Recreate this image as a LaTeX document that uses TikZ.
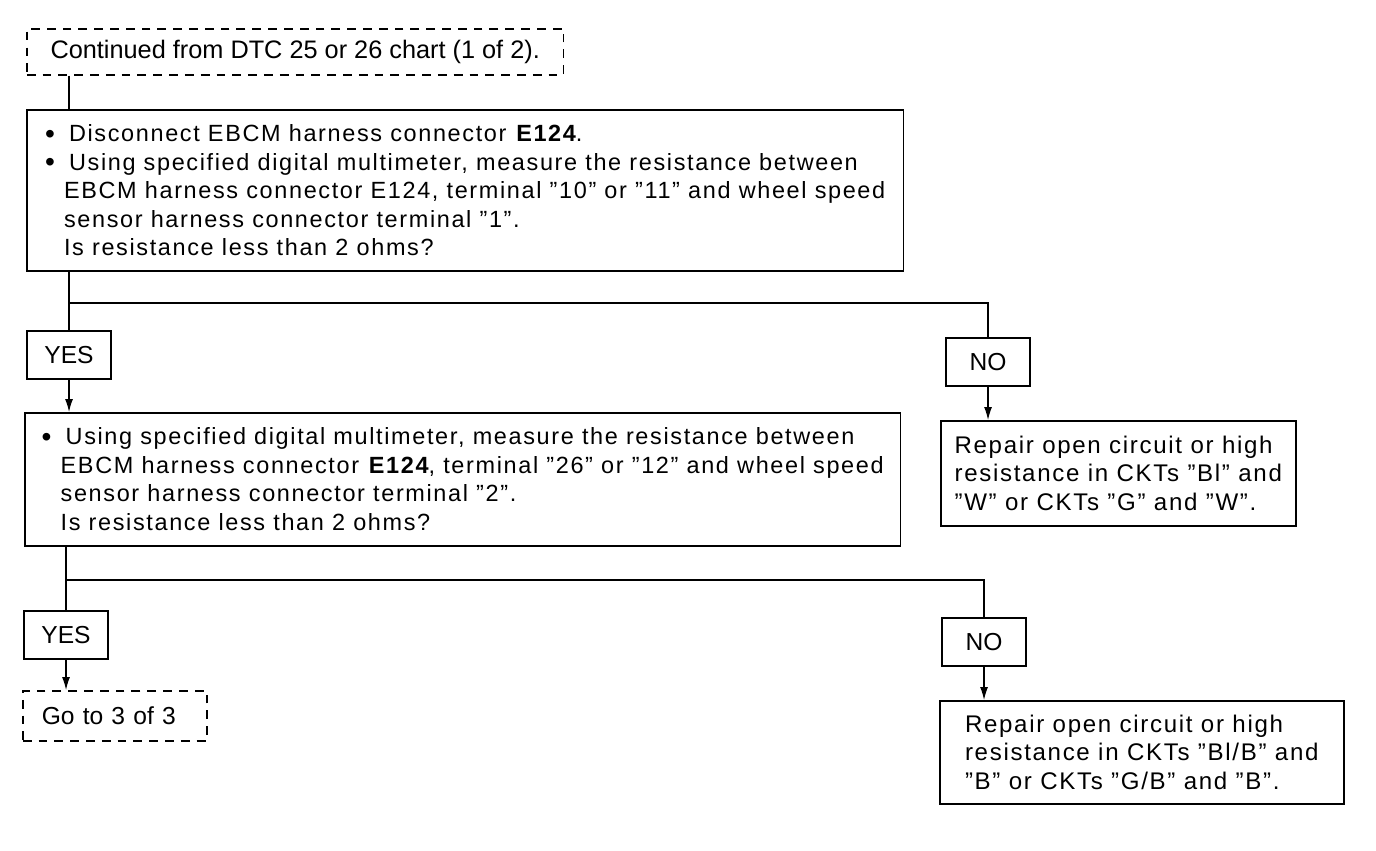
\documentclass[tikz,border=0pt]{standalone}
\usepackage{fontspec}
\setmainfont{Liberation Sans}
\newfontfamily\widefont[LetterSpace=7]{Liberation Sans}
\usetikzlibrary{arrows.meta}

\newcommand\blt{\makebox[0.48cm][l]{\raisebox{-0.8pt}{\fontsize{16}{16}\selectfont\textbullet}}}
\newcommand\ind{\hspace*{0.38cm}}
\newcommand\qt[1]{\textquotedblright#1\textquotedblright}

\begin{document}
\begin{tikzpicture}[x=0.02cm, y=-0.02cm,
  box/.style={draw, line width=0.9pt, anchor=north west, inner sep=0pt},
  chkbox/.style={box, align=left, font=\widefont\fontsize{13.35}{16.2}\selectfont},
  fixbox/.style={box, align=left, font=\widefont\fontsize{13.7}{16.2}\selectfont},
  tagbox/.style={box, minimum width=1.69cm, minimum height=0.96cm,
    font=\fontsize{14}{16}\selectfont},
  linkbox/.style={box, dash pattern=on 5pt off 4pt, align=left},
  wire/.style={line width=0.7pt},
  flow/.style={wire, -{Latex[length=2.6mm,width=1.6mm]}}]

\useasboundingbox (0,0) rectangle (1376,850);

% boxes
\node[linkbox, minimum width=10.74cm, minimum height=0.92cm,
  font=\fontsize{14.4}{16}\selectfont]
  (start) at (26,28) {Continued from DTC 25 or 26 chart (1 of 2).};

\node[chkbox, minimum width=17.54cm, minimum height=3.22cm] (chkA) at (26,109) {%
\blt Disconnect EBCM harness connector \textbf{E124}.\\
\blt Using specified digital multimeter, measure the resistance between\\
\ind EBCM harness connector E124, terminal \qt{10} or \qt{11} and wheel speed\\
\ind sensor harness connector terminal \qt{1}.\\
\ind Is resistance less than 2 ohms?};

\node[tagbox] (yesA) at (26,330) {YES};
\node[tagbox] (noA) at (945,337) {NO};

\node[fixbox, minimum width=7.1cm, minimum height=2.1cm] (fixA) at (940,420) {%
Repair open circuit or high\\
resistance in CKTs \qt{Bl} and\\
\qt{W} or CKTs \qt{G} and \qt{W}.};

\node[chkbox, minimum width=17.52cm, minimum height=2.66cm] (chkB) at (24,412) {%
\blt Using specified digital multimeter, measure the resistance between\\
\ind EBCM harness connector \textbf{E124}, terminal \qt{26} or \qt{12} and wheel speed\\
\ind sensor harness connector terminal \qt{2}.\\
\ind Is resistance less than 2 ohms?};

\node[tagbox] (yesB) at (23,610) {YES};
\node[tagbox] (noB) at (941,617) {NO};

\node[linkbox, inner xsep=0.38cm, text width=2.92cm, minimum height=1cm,
  font=\fontsize{14}{16}\selectfont]
  (goto) at (22,690) {Go to 3 of 3};

\node[fixbox, minimum width=8.08cm, minimum height=2.06cm] (fixB) at (939,700) {%
Repair open circuit or high\\
resistance in CKTs \qt{Bl/B} and\\
\qt{B} or CKTs \qt{G/B} and \qt{B}.};

% connectors
\coordinate (forkA) at (68,303);
\coordinate (forkB) at (65,580);

\draw[wire] (yesA.north |- start.south) -- (yesA.north |- chkA.north);
\draw[wire] (yesA.north |- chkA.south) -- (yesA.north);
\draw[wire] (forkA) -| (noA.north);
\draw[flow] (yesA.south) -- (yesA.south |- chkB.north);
\draw[flow] (noA.south) -- (noA.south |- fixA.north);

\draw[wire] (yesB.north |- chkB.south) -- (yesB.north);
\draw[wire] (forkB) -| (noB.north);
\draw[flow] (yesB.south) -- (yesB.south |- goto.north);
\draw[flow] (noB.south) -- (noB.south |- fixB.north);
\end{tikzpicture}
\end{document}
